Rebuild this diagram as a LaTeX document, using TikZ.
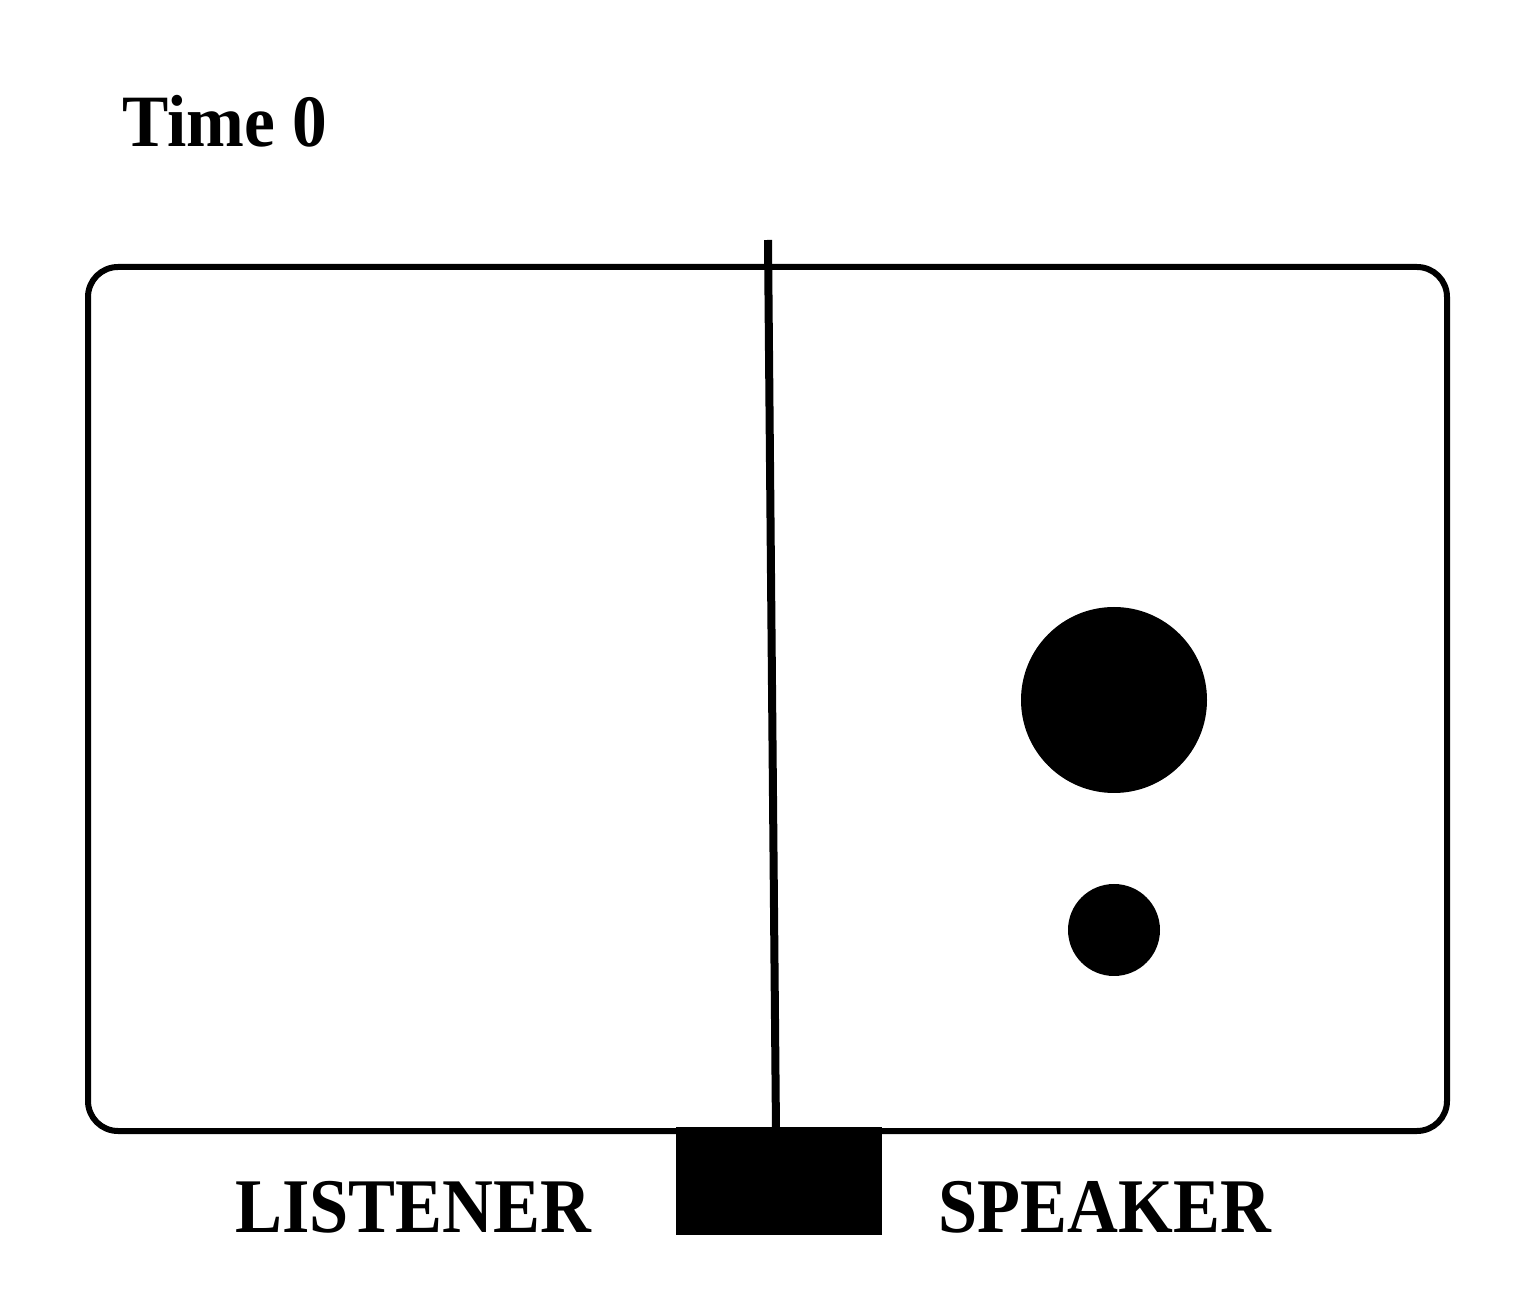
\documentclass[tikz,border=0pt]{standalone}
\usepackage{fontspec}
\setmainfont{Liberation Serif}
\usetikzlibrary{positioning, calc}
\definecolor{inkBlack}{HTML}{000000}
\tikzset{
    % Panel Styles
    panelBorder/.style={draw=inkBlack, line width=0.06cm, rounded corners=0.3cm},
    dividerLine/.style={draw=inkBlack, line width=0.08cm},
    screenBlock/.style={fill=inkBlack, draw=none},
    % Counter Styles
    bigDot/.style={circle, fill=inkBlack, minimum size=1.86cm, inner sep=0pt},
    smallDot/.style={circle, fill=inkBlack, minimum size=0.92cm, inner sep=0pt},
    % Label Styles
    roleLabel/.style={font=\fontsize{22}{24}\selectfont\bfseries, xscale=0.91, inner sep=0pt, anchor=base},
    timeLabel/.style={font=\fontsize{21}{24}\selectfont\bfseries, xscale=0.94, inner sep=0pt, anchor=base west}
}
\begin{document}
\begin{tikzpicture}
        \useasboundingbox (0,0) rectangle (15.38,13.07);

        % Title
        \node[timeLabel] (time) at (1.22, 11.60) {Time 0};

        % Board
        \draw[panelBorder] (0.88, 1.76) rectangle (14.47, 10.40);
        \coordinate (divTop) at (7.68, 10.67);
        \coordinate (divBot) at (7.76, 1.76);
        \draw[dividerLine] (divTop) -- (divBot);
        \fill[screenBlock] (6.76, 0.72) rectangle (8.82, 1.80);

        % Speaker side objects
        \node[bigDot] (bigObj) at (11.14, 6.07) {};
        \node[smallDot] (smallObj) at (11.14, 3.77) {};

        % Roles
        \node[roleLabel] (listener) at (4.13, 0.75) {LISTENER};
        \node[roleLabel] (speaker) at (11.05, 0.75) {SPEAKER};
    \end{tikzpicture}
\end{document}
